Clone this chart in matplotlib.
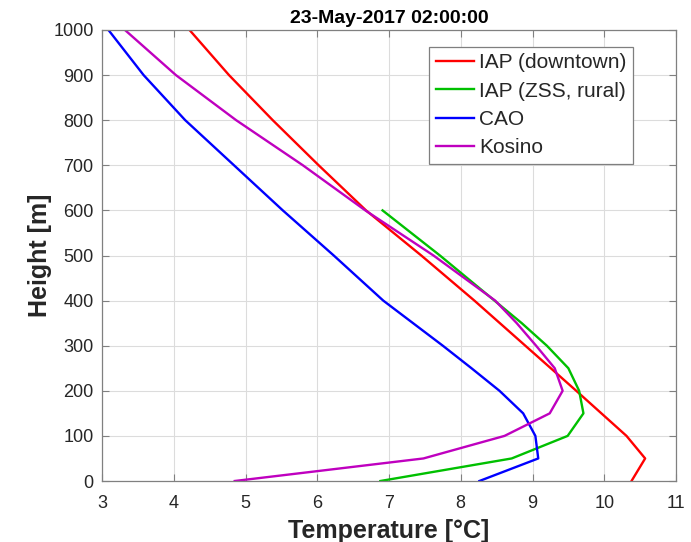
import matplotlib
matplotlib.use("Agg")
import matplotlib.pyplot as plt

# Heights [m]
h_iap = [0, 50, 100, 200, 300, 400, 500, 600, 700, 800, 900, 1000]
t_iap = [10.38, 10.57, 10.31, 9.61, 8.90, 8.19, 7.45, 6.68, 6.02, 5.38, 4.77, 4.22]

h_zss = [0, 50, 100, 150, 200, 250, 300, 350, 400, 500, 600]
t_zss = [6.88, 8.71, 9.49, 9.71, 9.65, 9.50, 9.20, 8.85, 8.47, 7.71, 6.91]

h_cao = [0, 50, 100, 150, 200, 250, 300, 400, 500, 600, 700, 800, 900, 1000]
t_cao = [8.26, 9.08, 9.04, 8.87, 8.54, 8.15, 7.75, 6.92, 6.23, 5.52, 4.84, 4.16, 3.58, 3.09]

h_kos = [0, 50, 100, 150, 200, 250, 300, 350, 400, 500, 600, 700, 800, 900, 1000]
t_kos = [4.85, 7.48, 8.61, 9.24, 9.42, 9.31, 9.05, 8.78, 8.48, 7.62, 6.67, 5.80, 4.87, 4.03, 3.32]

labels = ["IAP (downtown)", "IAP (ZSS, rural)", "CAO", "Kosino"]
colors = ["#ff0000", "#00c000", "#0000ff", "#bf00bf"]
title = "23-May-2017 02:00:00"
xticks = [3, 4, 5, 6, 7, 8, 9, 10, 11]
yticks = [0, 100, 200, 300, 400, 500, 600, 700, 800, 900, 1000]

plt.rcParams['font.family'] = ['Liberation Sans', 'DejaVu Sans']

fig = plt.figure(figsize=(6.91, 5.42), dpi=100)
ax = fig.add_axes([102/691, 1-481/542, (676-102)/691, (481-30)/542])

series = [(t_iap, h_iap), (t_zss, h_zss), (t_cao, h_cao), (t_kos, h_kos)]
for (t, h), lab, c in zip(series, labels, colors):
    ax.plot(t, h, color=c, lw=1.7, label=lab)

ax.set_xlim(3, 11)
ax.set_ylim(0, 1000)
ax.set_xticks(xticks)
ax.set_yticks(yticks)
ax.grid(True, color='#dcdcdc', lw=0.8)
ax.set_axisbelow(True)
gray = '#262626'
for s in ax.spines.values():
    s.set_color('#808080')
    s.set_linewidth(0.9)
ax.tick_params(direction='in', length=5, width=0.8, color='#808080',
               labelsize=13, labelcolor=gray, top=True, right=True, pad=6)
ax.tick_params(axis='x', pad=10)
ax.set_xlabel("Temperature [°C]", fontsize=18, fontweight='bold', color=gray, labelpad=5)
ax.set_ylabel("Height [m]", fontsize=18, fontweight='bold', color=gray, labelpad=1)
ax.set_title(title, fontsize=14, fontweight='bold', color='black', pad=5)

leg = ax.legend(loc='upper right', bbox_to_anchor=((633-102)/574, 1-(47-30)/451),
                fontsize=15, handlelength=1.85, handletextpad=0.25, labelspacing=0.45,
                borderpad=0.3, borderaxespad=0, fancybox=False, framealpha=1,
                edgecolor='#7f7f7f')
leg.get_frame().set_linewidth(0.9)
for t in leg.get_texts():
    t.set_color(gray)

fig.savefig("out.png", dpi=100)
